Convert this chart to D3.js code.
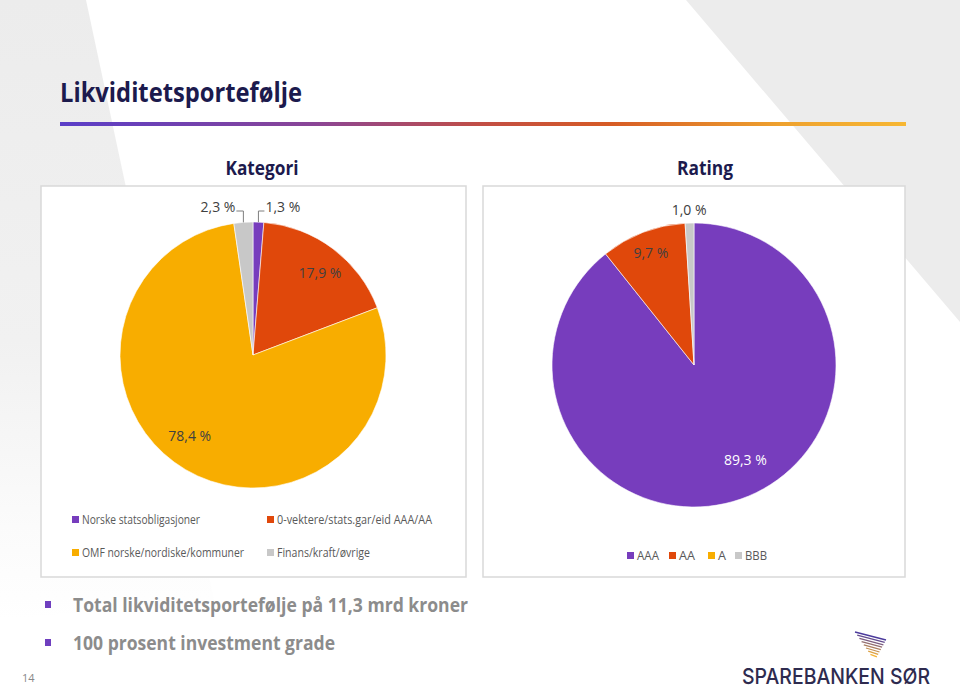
<!DOCTYPE html>
<html><head><meta charset="utf-8">
<script src="https://cdn.jsdelivr.net/npm/d3@7"></script>
<style>html,body{margin:0;padding:0;background:#fff;}svg{display:block;}</style>
</head><body>
<script>
// ---- data ----
const categoryLabels = ["Norske statsobligasjoner","0-vektere/stats.gar/eid AAA/AA","OMF norske/nordiske/kommuner","Finans/kraft/øvrige"];
const categoryValues = [1.3, 17.9, 78.4, 2.3];
const ratingLabels = ["AAA","AA","A","BBB"];
const ratingValues = [89.3, 9.7, 0, 1.0];
const sliceColors = ["#773dbd","#e0480b","#f8ad00","#c8c8c8"];
const bullets = ["Total likviditetsportefølje på 11,3 mrd kroner","100 prosent investment grade"];

const W = 960, H = 696;
const svg = d3.select("body").append("svg").attr("width", W).attr("height", H);
const defs = svg.append("defs");

// background
svg.append("rect").attr("width", W).attr("height", H).attr("fill", "#ececec");
const lg = defs.append("linearGradient").attr("id","leftFade").attr("x1",0).attr("y1",0).attr("x2",0).attr("y2",1);
lg.append("stop").attr("offset","0").attr("stop-color","#ececec");
lg.append("stop").attr("offset","0.55").attr("stop-color","#f1f1f1");
lg.append("stop").attr("offset","0.85").attr("stop-color","#fbfbfb");
lg.append("stop").attr("offset","1").attr("stop-color","#ffffff");
svg.append("path").attr("d","M86,0 L686,0 L960,322 L960,696 L0,696 L0,0 Z").attr("fill","#fff");
svg.append("path").attr("d","M0,0 L86,0 L214,600 L0,620 Z").attr("fill","url(#leftFade)");

// title
const font = "'Open Sans', 'Noto Sans', sans-serif";
svg.append("text").attr("x",60).attr("y",102).attr("font-family",font).attr("font-weight",700)
  .attr("font-size",26).attr("fill","#1c1a4d").attr("textLength",242).attr("lengthAdjust","spacingAndGlyphs")
  .text("Likviditetsportefølje");
const tg = defs.append("linearGradient").attr("id","titleLine");
[["0","#5a3ec8"],["0.3","#8a4596"],["0.5","#c24e44"],["0.65","#d65b25"],["0.85","#eea12e"],["1","#f7b733"]]
  .forEach(s => tg.append("stop").attr("offset",s[0]).attr("stop-color",s[1]));
svg.append("rect").attr("x",60).attr("y",122).attr("width",846).attr("height",4).attr("fill","url(#titleLine)");

// chart boxes
function box(x, y, w, h) {
  svg.append("rect").attr("x",x).attr("y",y).attr("width",w).attr("height",h)
    .attr("fill","#fff").attr("stroke","#d9d9d9").attr("stroke-width",1.5);
}
box(41, 186, 425, 391);
box(483, 186, 422, 391);

function chartTitle(x, t) {
  svg.append("text").attr("x",x).attr("y",175).attr("text-anchor","middle").attr("font-family",font)
    .attr("font-weight",700).attr("font-size",19).attr("fill","#1c1a4d")
    .attr("textLength", t === "Kategori" ? 73 : 56).attr("lengthAdjust","spacingAndGlyphs").text(t);
}
chartTitle(262, "Kategori");
chartTitle(705, "Rating");

const fmt = v => d3.format(".1f")(v).replace(".", ",") + " %";
const pie = d3.pie().sort(null).value(d => d);
const color = d3.scaleOrdinal().domain([0,1,2,3]).range(sliceColors);
const labSize = 14;

// ---- Kategori pie ----
(function(){
  const cx = 253, cy = 355, r = 133;
  const g = svg.append("g").attr("transform",`translate(${cx},${cy})`);
  const arcs = pie(categoryValues);
  const arc = d3.arc().innerRadius(0).outerRadius(r);
  g.selectAll("path").data(arcs).enter().append("path").attr("d",arc)
    .attr("fill",(d,i)=>color(i)).attr("stroke","#fff").attr("stroke-width",0.6);
  const lab = (i, x, y, anchor) => svg.append("text").attr("x",x).attr("y",y).attr("text-anchor",anchor)
    .attr("font-family",font).attr("font-size",labSize).attr("fill","#404040").text(fmt(categoryValues[i]));
  // inside labels
  [[1, 106, 0.04], [2, 103, 0.13]].forEach(([i, rr, a]) => {
    const m = (arcs[i].startAngle + arcs[i].endAngle)/2 + a;
    lab(i, cx + rr*Math.sin(m), cy - rr*Math.cos(m) + 5, "middle");
  });
  // outside labels with leaders
  const outer = d3.arc().innerRadius(r).outerRadius(r);
  const p3 = outer.centroid(arcs[3]);
  const p0 = outer.centroid(arcs[0]);
  const ly = 211;
  const lead = (pts) => svg.append("polyline").attr("points", pts.map(p=>p.join(",")).join(" "))
    .attr("fill","none").attr("stroke","#7f7f7f").attr("stroke-width",1);
  lead([[cx+p3[0]-7, ly],[cx+p3[0], ly],[cx+p3[0], cy+p3[1]]]);
  lead([[cx+p0[0]+6, ly],[cx+p0[0], ly],[cx+p0[0], cy+p0[1]]]);
  lab(3, cx+p3[0]-8, ly+1, "end");
  lab(0, cx+p0[0]+7, ly+1, "start");
})();

// ---- Rating pie ----
(function(){
  const cx = 694, cy = 365, r = 142;
  const g = svg.append("g").attr("transform",`translate(${cx},${cy})`);
  const arcs = pie(ratingValues);
  const arc = d3.arc().innerRadius(0).outerRadius(r);
  g.selectAll("path").data(arcs.filter(d=>d.value>0)).enter().append("path").attr("d",arc)
    .attr("fill",d=>color(d.index)).attr("stroke","#fff").attr("stroke-width",0.6);
  const lab = (i, rr, da, fill) => {
    const m = (arcs[i].startAngle + arcs[i].endAngle)/2 + da;
    svg.append("text").attr("x",cx + rr*Math.sin(m)).attr("y",cy - rr*Math.cos(m) + 5)
      .attr("text-anchor","middle").attr("font-family",font).attr("font-size",labSize).attr("fill",fill)
      .text(fmt(ratingValues[i]));
  };
  lab(0, 108, -0.16, "#ffffff");
  lab(1, 120, 0, "#404040");
  lab(3, 155, 0, "#404040");
})();

// ---- legends ----
const legFont = 12;
function legendItem(x, y, i, text, w) {
  svg.append("rect").attr("x",x).attr("y",y-4).attr("width",7).attr("height",7).attr("fill",color(i));
  const t = svg.append("text").attr("x",x+10).attr("y",y+4).attr("font-family",font).attr("font-size",legFont)
    .attr("fill","#595959").text(text);
  if (w) t.attr("textLength",w).attr("lengthAdjust","spacingAndGlyphs");
}
legendItem(72, 520, 0, categoryLabels[0], 118);
legendItem(267, 520, 1, categoryLabels[1], 155);
legendItem(72, 553, 2, categoryLabels[2], 162);
legendItem(267, 553, 3, categoryLabels[3], 93);
const rlx = [627, 669, 708, 735], rlw = [22, 16, 8, 22];
ratingLabels.forEach((t,i) => legendItem(rlx[i], 556, i, t, rlw[i]));

// ---- bullets ----
const bw = [395, 262];
bullets.forEach((b,i) => {
  const y = 605 + i*38;
  svg.append("rect").attr("x",45).attr("y",y-4).attr("width",6).attr("height",7).attr("fill","#6f3fbf");
  svg.append("text").attr("x",73).attr("y",y+7).attr("font-family",font).attr("font-weight",700)
    .attr("font-size",20).attr("fill","#8c8c8c").attr("textLength",bw[i]).attr("lengthAdjust","spacingAndGlyphs").text(b);
});
svg.append("text").attr("x",22).attr("y",682).attr("font-family",font).attr("font-size",11).attr("fill","#888").text("14");

// ---- logo ----
const lgc = d3.scaleLinear().domain([0,7]).range(["#4b3a9c","#f5b335"]).interpolate(d3.interpolateRgb);
d3.range(8).forEach(k => {
  svg.append("line").attr("x1",855 + k*2.2).attr("y1",632 + k*3.2).attr("x2",886 - k*1.3).attr("y2",640 + k*2.4)
    .attr("stroke",lgc(k)).attr("stroke-width",1.3);
});
svg.append("text").attr("x",742).attr("y",684).attr("font-family","Inter, 'DejaVu Sans', sans-serif").attr("font-weight",500)
  .attr("font-size",22).attr("fill","#2e2b4f").attr("textLength",188).attr("lengthAdjust","spacingAndGlyphs").text("SPAREBANKEN SØR");
</script>
</body></html>
